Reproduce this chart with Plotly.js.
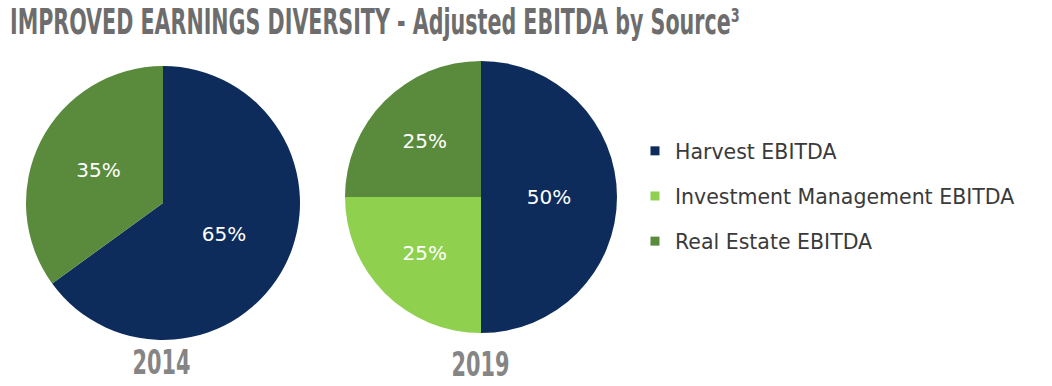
<!DOCTYPE html>
<html>
<head>
<meta charset="utf-8">
<script src="https://cdn.plot.ly/plotly-3.0.1.min.js"></script>
<style>html,body{margin:0;padding:0;background:#fff;}#chart{width:1052px;height:386px;}</style>
</head>
<body>
<div id="chart"></div>
<script>
// ---- data ----
const categories = ["Harvest EBITDA", "Investment Management EBITDA", "Real Estate EBITDA"];
const colors = ["#0d2c5c", "#8fd14f", "#5a8b3d"];
const years = ["2014", "2019"];
const values2014 = [65, 0, 35];
const values2019 = [50, 25, 25];
const titleText = "IMPROVED EARNINGS DIVERSITY - Adjusted EBITDA by Source\u00B3";

const condensed = "DejaVu Sans Condensed, Liberation Sans Narrow, Arial Narrow, sans-serif";
const labelFont = {family: "DejaVu Sans, Verdana, sans-serif", size: 20, color: "#ffffff"};

function pieTrace(vals, dom) {
  const lab = [], v = [], c = [];
  vals.forEach((x, i) => { if (x > 0) { lab.push(categories[i]); v.push(x); c.push(colors[i]); } });
  return {
    type: "pie", labels: lab, values: v, sort: false, direction: "clockwise", rotation: 0,
    marker: {colors: c, line: {width: 0}},
    textinfo: "percent", textposition: "inside", insidetextorientation: "horizontal",
    textfont: labelFont, hoverinfo: "label+percent", showlegend: false, domain: dom
  };
}

function dom(cx, cy, r) {
  return {x: [(cx - r) / 1052, (cx + r) / 1052], y: [1 - (cy + r) / 386, 1 - (cy - r) / 386]};
}

const traces = [
  pieTrace(values2014, dom(163, 203, 137)),
  pieTrace(values2019, dom(481, 197, 136))
];

// legend entries (one per category)
categories.forEach((name, i) => {
  traces.push({
    type: "scatter", mode: "markers", x: [null], y: [null], name: name,
    legendgroup: "g" + i, marker: {symbol: "square", size: 9, color: colors[i]},
    hoverinfo: "skip", showlegend: true
  });
});

const layout = {
  width: 1052, height: 386,
  margin: {l: 0, r: 0, t: 0, b: 0},
  paper_bgcolor: "#ffffff", plot_bgcolor: "#ffffff",
  title: {
    text: titleText, x: 10/1052, xanchor: "left", xref: "paper",
    y: 1 - 22/386, yanchor: "middle", yref: "container",
    font: {family: condensed, size: 35, color: "#6d6d6d", weight: "bold"}
  },
  xaxis: {visible: false, domain: [0.99, 1]},
  yaxis: {visible: false, domain: [0.99, 1]},
  legend: {
    x: 0.6036, xanchor: "left", y: 0.6606, yanchor: "top",
    traceorder: "grouped", tracegroupgap: 15.5,
    font: {family: "DejaVu Sans, Verdana, sans-serif", size: 20.5, color: "#3a3a3a"},
    bgcolor: "rgba(0,0,0,0)", itemclick: false, itemdoubleclick: false
  },
  annotations: years.map((yr, i) => ({
    text: yr, xref: "paper", yref: "paper",
    x: [161/1052, 480/1052][i], y: [1 - 362/386, 1 - 364/386][i],
    xanchor: "center", yanchor: "middle", showarrow: false,
    font: {family: condensed, size: 34, color: "#858585", weight: "bold"}
  })),
  showlegend: true
};

// squeeze the condensed display texts horizontally (the original uses a very narrow face)
function squeeze(el, targetWidth, anchor) {
  const b = el.getBBox();
  if (!b.width) return;
  const s = targetWidth / b.width;
  const x0 = anchor === "left" ? b.x : b.x + b.width / 2;
  el.setAttribute("transform", `translate(${x0},0) scale(${s},1) translate(${-x0},0)`);
}

Plotly.newPlot("chart", traces, layout, {displayModeBar: false, staticPlot: true}).then(gd => {
  const t = gd.querySelector("text.gtitle");
  if (t) squeeze(t, 730, "left");
  gd.querySelectorAll("text.annotation-text").forEach(a => squeeze(a, 58, "center"));
});
</script>
</body>
</html>
